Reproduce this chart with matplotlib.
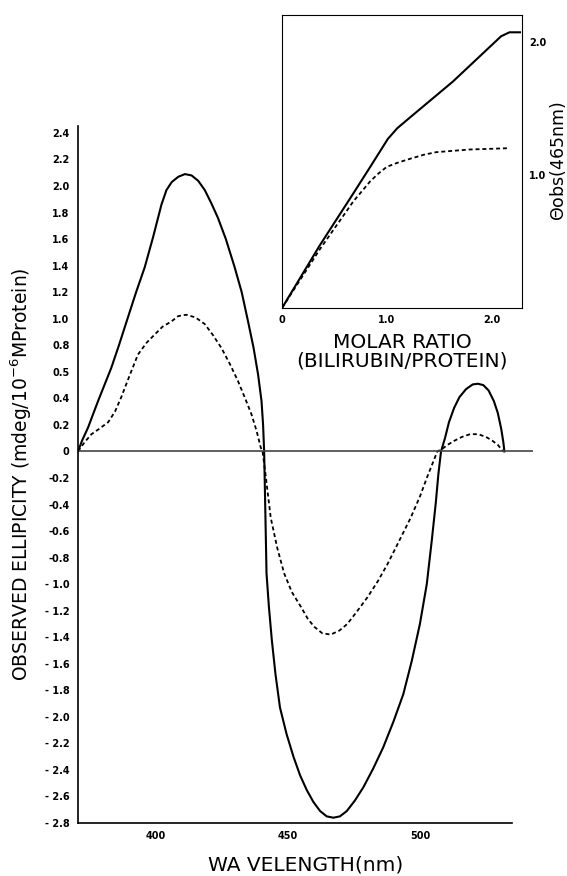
import matplotlib.pyplot as plt
import numpy as np

# main CD spectra (wavelength nm, ellipticity)
wl_solid = [370.5, 372.0, 374.3, 376.0, 378.1, 380.5, 383.1, 386.0, 389.4, 392.5,
            395.8, 399.0, 402.1, 404.0, 406.0, 408.5, 411.0, 413.5, 416.0, 418.5,
            421.0, 423.5, 426.5, 429.8, 432.5, 434.9, 437.0, 438.7, 440.0, 440.6,
            441.0, 441.3, 441.9, 442.8, 443.9, 445.3, 447.0, 449.5, 452.1, 454.6,
            457.1, 459.6, 462.2, 464.7, 467.2, 469.7, 472.3, 475.4, 478.6, 482.3,
            486.1, 489.9, 493.7, 496.9, 500.0, 502.6, 504.5, 506.0, 507.0, 508.0,
            509.5, 511.0, 513.0, 515.0, 517.5, 520.0, 522.0, 524.0, 526.0, 528.0,
            529.5, 530.8, 531.6, 532.0]
val_solid = [0, 0.08, 0.18, 0.27, 0.38, 0.50, 0.63, 0.80, 1.01, 1.20,
             1.39, 1.62, 1.86, 1.97, 2.03, 2.07, 2.09, 2.08, 2.04, 1.97,
             1.87, 1.76, 1.60, 1.39, 1.20, 0.98, 0.78, 0.58, 0.38, 0.20,
             0, -0.30, -0.92, -1.17, -1.42, -1.68, -1.93, -2.13, -2.30, -2.44,
             -2.55, -2.64, -2.71, -2.75, -2.76, -2.75, -2.71, -2.63, -2.53, -2.39,
             -2.23, -2.04, -1.83, -1.58, -1.30, -1.00, -0.67, -0.39, -0.17, 0,
             0.10, 0.22, 0.33, 0.41, 0.47, 0.505, 0.51, 0.50, 0.46, 0.38,
             0.29, 0.17, 0.07, 0]

wl_dash = [370.5, 373.0, 375.6, 378.5, 381.9, 384.5, 386.9, 390.0, 393.2, 396.5,
           399.5, 402.5, 405.9, 408.5, 411.5, 415.0, 418.5, 421.5, 424.8, 428.0,
           431.1, 433.8, 436.2, 438.2, 439.7, 440.4, 441.5, 443.5, 446.0, 448.6,
           451.5, 454.9, 457.5, 459.9, 463.0, 466.2, 469.5, 472.5, 476.0, 480.1,
           484.0, 487.7, 492.0, 496.5, 500.0, 502.8, 505.0, 506.6, 508.5, 510.5,
           513.0, 516.0, 519.0, 522.0, 525.0, 527.5, 529.5, 531.5]
val_dash = [0, 0.07, 0.13, 0.17, 0.22, 0.30, 0.41, 0.57, 0.73, 0.82,
            0.88, 0.94, 0.98, 1.02, 1.03, 1.01, 0.96, 0.88, 0.78, 0.66,
            0.53, 0.40, 0.28, 0.15, 0.03, 0, -0.17, -0.50, -0.73, -0.92,
            -1.06, -1.17, -1.26, -1.32, -1.37, -1.38, -1.35, -1.30, -1.21, -1.10,
            -0.98, -0.85, -0.68, -0.50, -0.34, -0.19, -0.08, 0, 0.02, 0.05,
            0.08, 0.11, 0.13, 0.13, 0.11, 0.08, 0.05, 0]

y_ticks = [2.4, 2.2, 2.0, 1.8, 1.6, 1.4, 1.2, 1.0, 0.8, 0.6, 0.4, 0.2, 0,
           -0.2, -0.4, -0.6, -0.8, -1.0, -1.2, -1.4, -1.6, -1.8, -2.0, -2.2, -2.4, -2.6, -2.8]
y_labels = ['2.4', '2.2', '2.0', '1.8', '1.6', '1.4', '1.2', '1.0', '0.8', '0.5', '0.4', '0.2', '0',
            '-0.2', '-0.4', '-0.6', '-0.8', '- 1.0', '- 1.2', '- 1.4', '- 1.6', '- 1.8', '- 2.0',
            '- 2.2', '- 2.4', '- 2.6', '- 2.8']
x_ticks = [400, 450, 500]

# inset titration (molar ratio, theta obs at 465nm)
ratio_solid = [0, 0.36, 0.68, 0.85, 1.01, 1.10, 1.22, 1.63, 2.09, 2.17, 2.27]
theta_solid = [0, 0.47, 0.86, 1.07, 1.27, 1.35, 1.43, 1.70, 2.04, 2.07, 2.07]
ratio_dash = [0, 0.36, 0.68, 0.84, 0.92, 1.0, 1.10, 1.22, 1.35, 1.47, 1.79, 2.17]
theta_dash = [0, 0.44, 0.80, 0.95, 1.01, 1.06, 1.09, 1.12, 1.15, 1.17, 1.19, 1.20]

dash = (0, (2.2, 1.6))

fig = plt.figure(figsize=(5.67, 8.76), dpi=100)
ax = fig.add_axes([0.1376, 0.0605, 0.8032, 0.7953])
ax.plot(wl_solid, val_solid, color='black', lw=1.5)
ax.plot(wl_dash, val_dash, color='black', lw=1.3, linestyle=dash)
ax.axhline(0, color='#444444', lw=1.2)
ax.set_xlim(370.5, 543)
ax.set_ylim(-2.8, 2.45)
ax.spines['top'].set_visible(False)
ax.spines['right'].set_visible(False)
ax.spines['bottom'].set_bounds(370.5, 535)
ax.spines['left'].set_linewidth(1.2)
ax.spines['bottom'].set_linewidth(1.2)
ax.set_yticks(y_ticks)
ax.set_yticklabels(y_labels)
ax.set_xticks(x_ticks)
ax.tick_params(length=0, labelsize=7, pad=6)
for t in ax.get_xticklabels() + ax.get_yticklabels():
    t.set_fontweight('bold')
ax.set_xlabel('WA VELENGTH(nm)', fontsize=14.5, labelpad=10)
ax.set_ylabel('OBSERVED ELLIPICITY (mdeg/10$^{-6}$MProtein)', fontsize=13.5, labelpad=8)

ins = fig.add_axes([0.4974, 0.6484, 0.4233, 0.3345])
ins.plot(ratio_solid, theta_solid, color='black', lw=1.5)
ins.plot(ratio_dash, theta_dash, color='black', lw=1.3, linestyle=dash)
ins.set_xlim(0, 2.29)
ins.set_ylim(0, 2.2)
ins.set_xticks([0, 1.0, 2.0])
ins.set_xticklabels(['0', '1.0', '2.0'])
ins.set_yticks([1.0, 2.0])
ins.set_yticklabels(['1.0', '2.0'])
ins.yaxis.tick_right()
ins.yaxis.set_label_position('right')
ins.tick_params(length=0, labelsize=7, pad=5)
for t in ins.get_xticklabels() + ins.get_yticklabels():
    t.set_fontweight('bold')
ins.set_ylabel(r'$\Theta$obs(465nm)', fontsize=12.5, labelpad=1)
ins.set_xlabel('MOLAR RATIO\n(BILIRUBIN/PROTEIN)', fontsize=14.5, labelpad=6,
               linespacing=0.95)

fig.savefig('out.png', dpi=100)
